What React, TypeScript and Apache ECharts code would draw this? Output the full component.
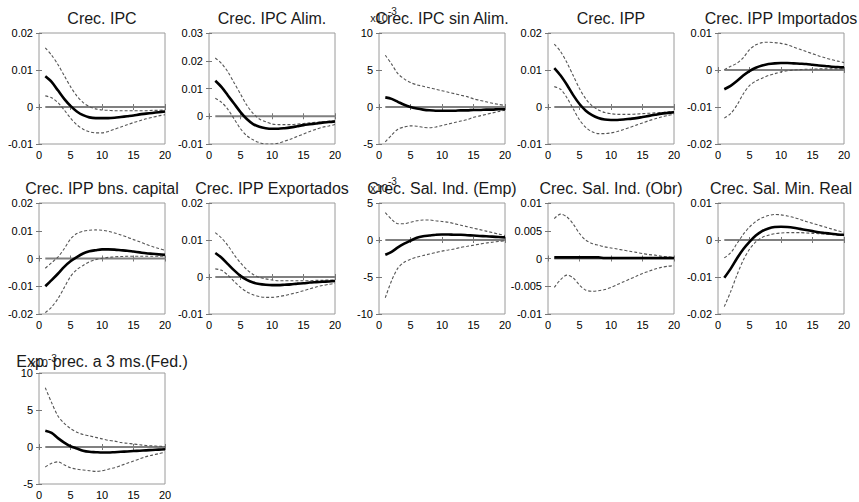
import React, { useEffect, useRef } from "react";
import * as echarts from "echarts";

// ---- data ----
const periods = [1, 2, 3, 4, 5, 6, 7, 8, 9, 10, 11, 12, 13, 14, 15, 16, 17, 18, 19, 20];
const xTicks = [0, 5, 10, 15, 20];

// 1 Crec. IPC
const ipcTicks = [-0.01, 0, 0.01, 0.02];
const ipcMean = [0.0083, 0.0068, 0.0045, 0.0022, 0.0003, -0.0012, -0.0022, -0.0028, -0.003, -0.003, -0.003, -0.0029, -0.0027, -0.0025, -0.0023, -0.002, -0.0018, -0.0016, -0.0014, -0.0012];
const ipcUpper = [0.016, 0.014, 0.0115, 0.0085, 0.0055, 0.003, 0.0012, 0.0001, -0.0005, -0.0008, -0.0009, -0.001, -0.001, -0.001, -0.001, -0.001, -0.001, -0.0009, -0.0009, -0.0008];
const ipcLower = [0.003, 0.0025, 0.0012, -0.0008, -0.003, -0.0048, -0.006, -0.0067, -0.007, -0.007, -0.0066, -0.006, -0.0054, -0.0048, -0.0042, -0.0037, -0.0032, -0.0028, -0.0024, -0.0021];

// 2 Crec. IPC Alim.
const alimTicks = [-0.01, 0, 0.01, 0.02, 0.03];
const alimMean = [0.0128, 0.0105, 0.0075, 0.0045, 0.0015, -0.001, -0.0028, -0.0038, -0.0043, -0.0045, -0.0045, -0.0043, -0.004, -0.0036, -0.0032, -0.0029, -0.0026, -0.0023, -0.0021, -0.0019];
const alimUpper = [0.021, 0.019, 0.016, 0.012, 0.008, 0.004, 0.001, -0.001, -0.002, -0.0028, -0.003, -0.003, -0.003, -0.0028, -0.0026, -0.0024, -0.0022, -0.002, -0.0018, -0.0016];
const alimLower = [0.0065, 0.005, 0.0025, -0.001, -0.0045, -0.007, -0.0085, -0.0095, -0.01, -0.01, -0.0097, -0.009, -0.0082, -0.0073, -0.0064, -0.0055, -0.0047, -0.004, -0.0035, -0.003];

// 3 Crec. IPC sin Alim. (x 10^-3)
const sinAlimTicks = [-5, 0, 5, 10];
const sinAlimMean = [1.3, 1.1, 0.7, 0.3, 0.0, -0.2, -0.35, -0.45, -0.5, -0.5, -0.5, -0.5, -0.45, -0.45, -0.4, -0.4, -0.35, -0.35, -0.3, -0.3];
const sinAlimUpper = [7.0, 5.8, 4.5, 3.8, 3.3, 3.0, 2.8, 2.6, 2.4, 2.2, 2.0, 1.8, 1.6, 1.4, 1.1, 0.9, 0.7, 0.5, 0.35, 0.2];
const sinAlimLower = [-4.7, -3.8, -3.0, -2.7, -2.55, -2.6, -2.75, -2.8, -2.7, -2.5, -2.3, -2.1, -1.9, -1.7, -1.4, -1.2, -1.0, -0.8, -0.6, -0.45];

// 4 Crec. IPP
const ippTicks = [-0.01, 0, 0.01, 0.02];
const ippMean = [0.0105, 0.0085, 0.006, 0.0032, 0.0008, -0.001, -0.0022, -0.003, -0.0034, -0.0035, -0.0035, -0.0034, -0.0032, -0.003, -0.0027, -0.0024, -0.0021, -0.0018, -0.0016, -0.0014];
const ippUpper = [0.017, 0.015, 0.012, 0.0085, 0.005, 0.0022, 0.0003, -0.0008, -0.0015, -0.0018, -0.002, -0.002, -0.002, -0.0019, -0.0018, -0.0017, -0.0016, -0.0015, -0.0013, -0.0012];
const ippLower = [0.0055, 0.0048, 0.0025, -0.0005, -0.0035, -0.0055, -0.0067, -0.0072, -0.0072, -0.007, -0.0066, -0.0061, -0.0055, -0.0049, -0.0043, -0.0037, -0.0032, -0.0027, -0.0023, -0.002];

// 5 Crec. IPP Importados
const impTicks = [-0.02, -0.01, 0, 0.01];
const impMean = [-0.0052, -0.0043, -0.003, -0.0015, -0.0003, 0.0006, 0.0012, 0.0016, 0.0018, 0.0019, 0.0019, 0.0018, 0.0017, 0.0016, 0.0014, 0.0012, 0.0011, 0.0009, 0.0008, 0.0007];
const impUpper = [0.0001, 0.001, 0.0018, 0.0033, 0.0055, 0.0068, 0.0074, 0.0075, 0.0074, 0.0072, 0.0068, 0.0062, 0.0056, 0.005, 0.0044, 0.0038, 0.0033, 0.0028, 0.0024, 0.002];
const impLower = [-0.013, -0.0118, -0.0095, -0.0065, -0.0042, -0.003, -0.0022, -0.0015, -0.001, -0.0005, -0.0002, 0.0, 0.0001, 0.0002, 0.0002, 0.0003, 0.0003, 0.0003, 0.0003, 0.0003];

// 6 Crec. IPP bns. capital
const capTicks = [-0.02, -0.01, 0, 0.01, 0.02];
const capMean = [-0.01, -0.0078, -0.0055, -0.003, -0.001, 0.0005, 0.0018, 0.0026, 0.003, 0.0033, 0.0033, 0.0032, 0.003, 0.0028, 0.0025, 0.0022, 0.0019, 0.0017, 0.0015, 0.0013];
const capUpper = [-0.0035, -0.0015, 0.0005, 0.0035, 0.007, 0.009, 0.0098, 0.0102, 0.0103, 0.0102, 0.0098, 0.0092, 0.0085, 0.0077, 0.0068, 0.006, 0.0051, 0.0043, 0.0036, 0.003];
const capLower = [-0.0195, -0.0175, -0.0145, -0.0105, -0.0065, -0.004, -0.0025, -0.0012, -0.0004, 0.0001, 0.0004, 0.0006, 0.0007, 0.0008, 0.0008, 0.0008, 0.0008, 0.0008, 0.0008, 0.0008];

// 7 Crec. IPP Exportados
const expTicks = [-0.01, 0, 0.01, 0.02];
const expMean = [0.0065, 0.0052, 0.0035, 0.0018, 0.0003, -0.0008, -0.0015, -0.0019, -0.0021, -0.0022, -0.0022, -0.0021, -0.002, -0.0018, -0.0017, -0.0015, -0.0014, -0.0013, -0.0012, -0.0011];
const expUpper = [0.012, 0.0105, 0.0085, 0.006, 0.0038, 0.002, 0.0007, -0.0001, -0.0005, -0.0008, -0.001, -0.001, -0.001, -0.001, -0.001, -0.001, -0.0009, -0.0009, -0.0008, -0.0008];
const expLower = [0.0022, 0.0018, 0.0005, -0.0012, -0.0028, -0.004, -0.0048, -0.0053, -0.0055, -0.0055, -0.0053, -0.005, -0.0046, -0.0042, -0.0037, -0.0032, -0.0027, -0.0023, -0.002, -0.0017];

// 8 Crec. Sal. Ind. (Emp) (x 10^-3)
const empTicks = [-10, -5, 0, 5];
const empMean = [-2.0, -1.6, -1.0, -0.5, -0.1, 0.3, 0.5, 0.6, 0.7, 0.75, 0.75, 0.7, 0.7, 0.65, 0.6, 0.55, 0.5, 0.45, 0.4, 0.35];
const empUpper = [3.7, 2.8, 2.2, 2.2, 2.4, 2.6, 2.7, 2.7, 2.6, 2.5, 2.4, 2.2, 2.0, 1.8, 1.6, 1.4, 1.2, 1.0, 0.8, 0.6];
const empLower = [-7.8, -5.5, -3.8, -3.0, -2.6, -2.3, -2.1, -1.9, -1.7, -1.5, -1.35, -1.2, -1.0, -0.85, -0.7, -0.55, -0.4, -0.3, -0.2, -0.1];

// 9 Crec. Sal. Ind. (Obr)
const obrTicks = [-0.01, -0.005, 0, 0.005, 0.01];
const obrMean = [0.0002, 0.0002, 0.0002, 0.0002, 0.0002, 0.0002, 0.0002, 0.0002, 0.0001, 0.0001, 0.0001, 0.0001, 0.0001, 0.0001, 0.0001, 0.0001, 0.0001, 0.0001, 0.0001, 0.0001];
const obrUpper = [0.0072, 0.008, 0.0075, 0.0062, 0.0045, 0.0033, 0.0027, 0.0024, 0.0021, 0.0019, 0.0017, 0.0015, 0.0013, 0.0011, 0.0009, 0.0007, 0.0006, 0.0004, 0.0003, 0.0002];
const obrLower = [-0.0052, -0.0038, -0.003, -0.0035, -0.0048, -0.0057, -0.0059, -0.0058, -0.0056, -0.0052, -0.0047, -0.0042, -0.0037, -0.0032, -0.0027, -0.0023, -0.0019, -0.0016, -0.0014, -0.0013];

// 10 Crec. Sal. Min. Real
const minTicks = [-0.02, -0.01, 0, 0.01];
const minMean = [-0.0102, -0.0078, -0.005, -0.0025, -0.0005, 0.0012, 0.0024, 0.0031, 0.0035, 0.0036, 0.0035, 0.0033, 0.003, 0.0027, 0.0024, 0.0021, 0.0019, 0.0017, 0.0015, 0.0014];
const minUpper = [-0.0048, -0.0035, -0.001, 0.0015, 0.0035, 0.005, 0.006, 0.0066, 0.0069, 0.0068, 0.0065, 0.0061, 0.0056, 0.005, 0.0045, 0.004, 0.0035, 0.003, 0.0025, 0.0021];
const minLower = [-0.018, -0.014, -0.0095, -0.0055, -0.0025, -0.0005, 0.0007, 0.0013, 0.0017, 0.0019, 0.002, 0.002, 0.002, 0.0019, 0.0018, 0.0017, 0.0016, 0.0015, 0.0013, 0.0012];

// 11 Exp. prec. a 3 ms.(Fed.) (x 10^-3)
const fedTicks = [-5, 0, 5, 10];
const fedMean = [2.2, 1.9, 1.2, 0.6, 0.1, -0.2, -0.5, -0.65, -0.7, -0.75, -0.75, -0.7, -0.65, -0.6, -0.55, -0.5, -0.45, -0.4, -0.35, -0.3];
const fedUpper = [8.0, 6.0, 4.2, 3.2, 2.5, 2.0, 1.7, 1.5, 1.3, 1.1, 0.9, 0.8, 0.6, 0.5, 0.4, 0.3, 0.2, 0.15, 0.1, 0.05];
const fedLower = [-2.7, -2.2, -2.0, -2.4, -2.8, -3.0, -3.1, -3.2, -3.3, -3.2, -3.0, -2.8, -2.5, -2.2, -1.9, -1.6, -1.3, -1.1, -0.9, -0.7];

const panels = [
  { title: "Crec. IPC", ticks: ipcTicks, mean: ipcMean, upper: ipcUpper, lower: ipcLower, exp: "" },
  { title: "Crec. IPC Alim.", ticks: alimTicks, mean: alimMean, upper: alimUpper, lower: alimLower, exp: "" },
  { title: "Crec. IPC sin Alim.", ticks: sinAlimTicks, mean: sinAlimMean, upper: sinAlimUpper, lower: sinAlimLower, exp: "-3" },
  { title: "Crec. IPP", ticks: ippTicks, mean: ippMean, upper: ippUpper, lower: ippLower, exp: "" },
  { title: "Crec. IPP Importados", ticks: impTicks, mean: impMean, upper: impUpper, lower: impLower, exp: "" },
  { title: "Crec. IPP bns. capital", ticks: capTicks, mean: capMean, upper: capUpper, lower: capLower, exp: "" },
  { title: "Crec. IPP Exportados", ticks: expTicks, mean: expMean, upper: expUpper, lower: expLower, exp: "" },
  { title: "Crec. Sal. Ind. (Emp)", ticks: empTicks, mean: empMean, upper: empUpper, lower: empLower, exp: "-3" },
  { title: "Crec. Sal. Ind. (Obr)", ticks: obrTicks, mean: obrMean, upper: obrUpper, lower: obrLower, exp: "" },
  { title: "Crec. Sal. Min. Real", ticks: minTicks, mean: minMean, upper: minUpper, lower: minLower, exp: "" },
  { title: "Exp. prec. a 3 ms.(Fed.)", ticks: fedTicks, mean: fedMean, upper: fedUpper, lower: fedLower, exp: "-3" },
];

// ---- layout ----
const COL_LEFT = [39, 209, 379, 548, 718];
const ROW_TOP = [33, 203, 373];
const TITLE_DY = [-14.5, -15, -12];
const W = 126;
const H = 111;
const FONT = "'Liberation Sans', Arial, Helvetica, sans-serif";
const BOX = "#9a9a9a";

const fmt = (v: number) => {
  const s = parseFloat(v.toPrecision(6));
  return String(Object.is(s, -0) ? 0 : s);
};

function buildOption() {
  const grid: any[] = [];
  const xAxis: any[] = [];
  const yAxis: any[] = [];
  const series: any[] = [];
  const graphic: any[] = [];

  panels.forEach((p, i) => {
    const col = i % 5;
    const row = Math.floor(i / 5);
    const left = COL_LEFT[col];
    const top = ROW_TOP[row];
    grid.push({
      left, top, width: W, height: H, show: true,
      borderColor: BOX, borderWidth: 1, backgroundColor: "#fff", containLabel: false,
    });
    const yMin = p.ticks[0];
    const yMax = p.ticks[p.ticks.length - 1];
    const yInt = p.ticks[1] - p.ticks[0];
    const xMin = xTicks[0];
    const xMax = xTicks[xTicks.length - 1];
    const xInt = xTicks[1] - xTicks[0];
    const tick = { show: true, inside: true, length: 3, lineStyle: { color: "#777", width: 1 } };
    ["bottom", "top"].forEach((pos, k) => {
      xAxis.push({
        type: "value", gridIndex: i, position: pos, min: xMin, max: xMax, interval: xInt,
        axisLine: { show: false }, axisTick: tick, splitLine: { show: false },
        axisLabel: k === 0
          ? { show: true, fontSize: 11, color: "#000", fontFamily: FONT, margin: 5, formatter: fmt }
          : { show: false },
      });
    });
    ["left", "right"].forEach((pos, k) => {
      yAxis.push({
        type: "value", gridIndex: i, position: pos, min: yMin, max: yMax, interval: yInt,
        axisLine: { show: false }, axisTick: tick, splitLine: { show: false },
        axisLabel: k === 0
          ? { show: true, fontSize: 11, color: "#000", fontFamily: FONT, margin: 6, formatter: fmt }
          : { show: false },
      });
    });
    const ax = { xAxisIndex: 2 * i, yAxisIndex: 2 * i };
    const toPairs = (arr: number[]) => periods.map((t, k) => [t, arr[k]]);
    series.push({
      type: "line", ...ax, data: periods.map((t) => [t, 0]), showSymbol: false, silent: true,
      lineStyle: { color: "#808080", width: 2 },
    });
    series.push({
      type: "line", ...ax, data: toPairs(p.lower), showSymbol: false, smooth: 0.3, silent: true,
      lineStyle: { color: "#555", width: 1.1, type: [3, 2] },
    });
    series.push({
      type: "line", ...ax, data: toPairs(p.upper), showSymbol: false, smooth: 0.3, silent: true,
      lineStyle: { color: "#555", width: 1.1, type: [3, 2] },
    });
    series.push({
      type: "line", ...ax, data: toPairs(p.mean), showSymbol: false, smooth: 0.3, silent: true,
      lineStyle: { color: "#000", width: 2.6 },
    });

    graphic.push({
      type: "text", x: left + W / 2, y: top + TITLE_DY[row], silent: true,
      style: {
        text: p.title, fill: "#1a1a1a", font: `16px ${FONT}`,
        textAlign: "center", textVerticalAlign: "middle",
      },
    });
    if (p.exp) {
      const baseY = row === 2 ? top - 10 : top - 15;
      const supY = row === 2 ? top - 15 : top - 22;
      graphic.push({
        type: "text", x: left + 9, y: baseY, silent: true,
        style: { text: "x10", fill: "#1a1a1a", font: `11px ${FONT}`, textAlign: "right", textVerticalAlign: "middle" },
      });
      graphic.push({
        type: "text", x: left + 9, y: supY, silent: true,
        style: { text: p.exp, fill: "#1a1a1a", font: `10px ${FONT}`, textAlign: "left", textVerticalAlign: "middle" },
      });
    }
  });

  return {
    animation: false,
    backgroundColor: "#fff",
    grid, xAxis, yAxis, series, graphic,
  };
}

export default function App() {
  const ref = useRef<HTMLDivElement>(null);
  useEffect(() => {
    if (!ref.current) return;
    const chart = echarts.init(ref.current, undefined, { renderer: "svg" });
    chart.setOption(buildOption() as any);
    return () => chart.dispose();
  }, []);
  return (
    <div
      ref={ref}
      style={{ position: "fixed", left: 0, top: 0, width: 859, height: 502, background: "#fff" }}
    />
  );
}
